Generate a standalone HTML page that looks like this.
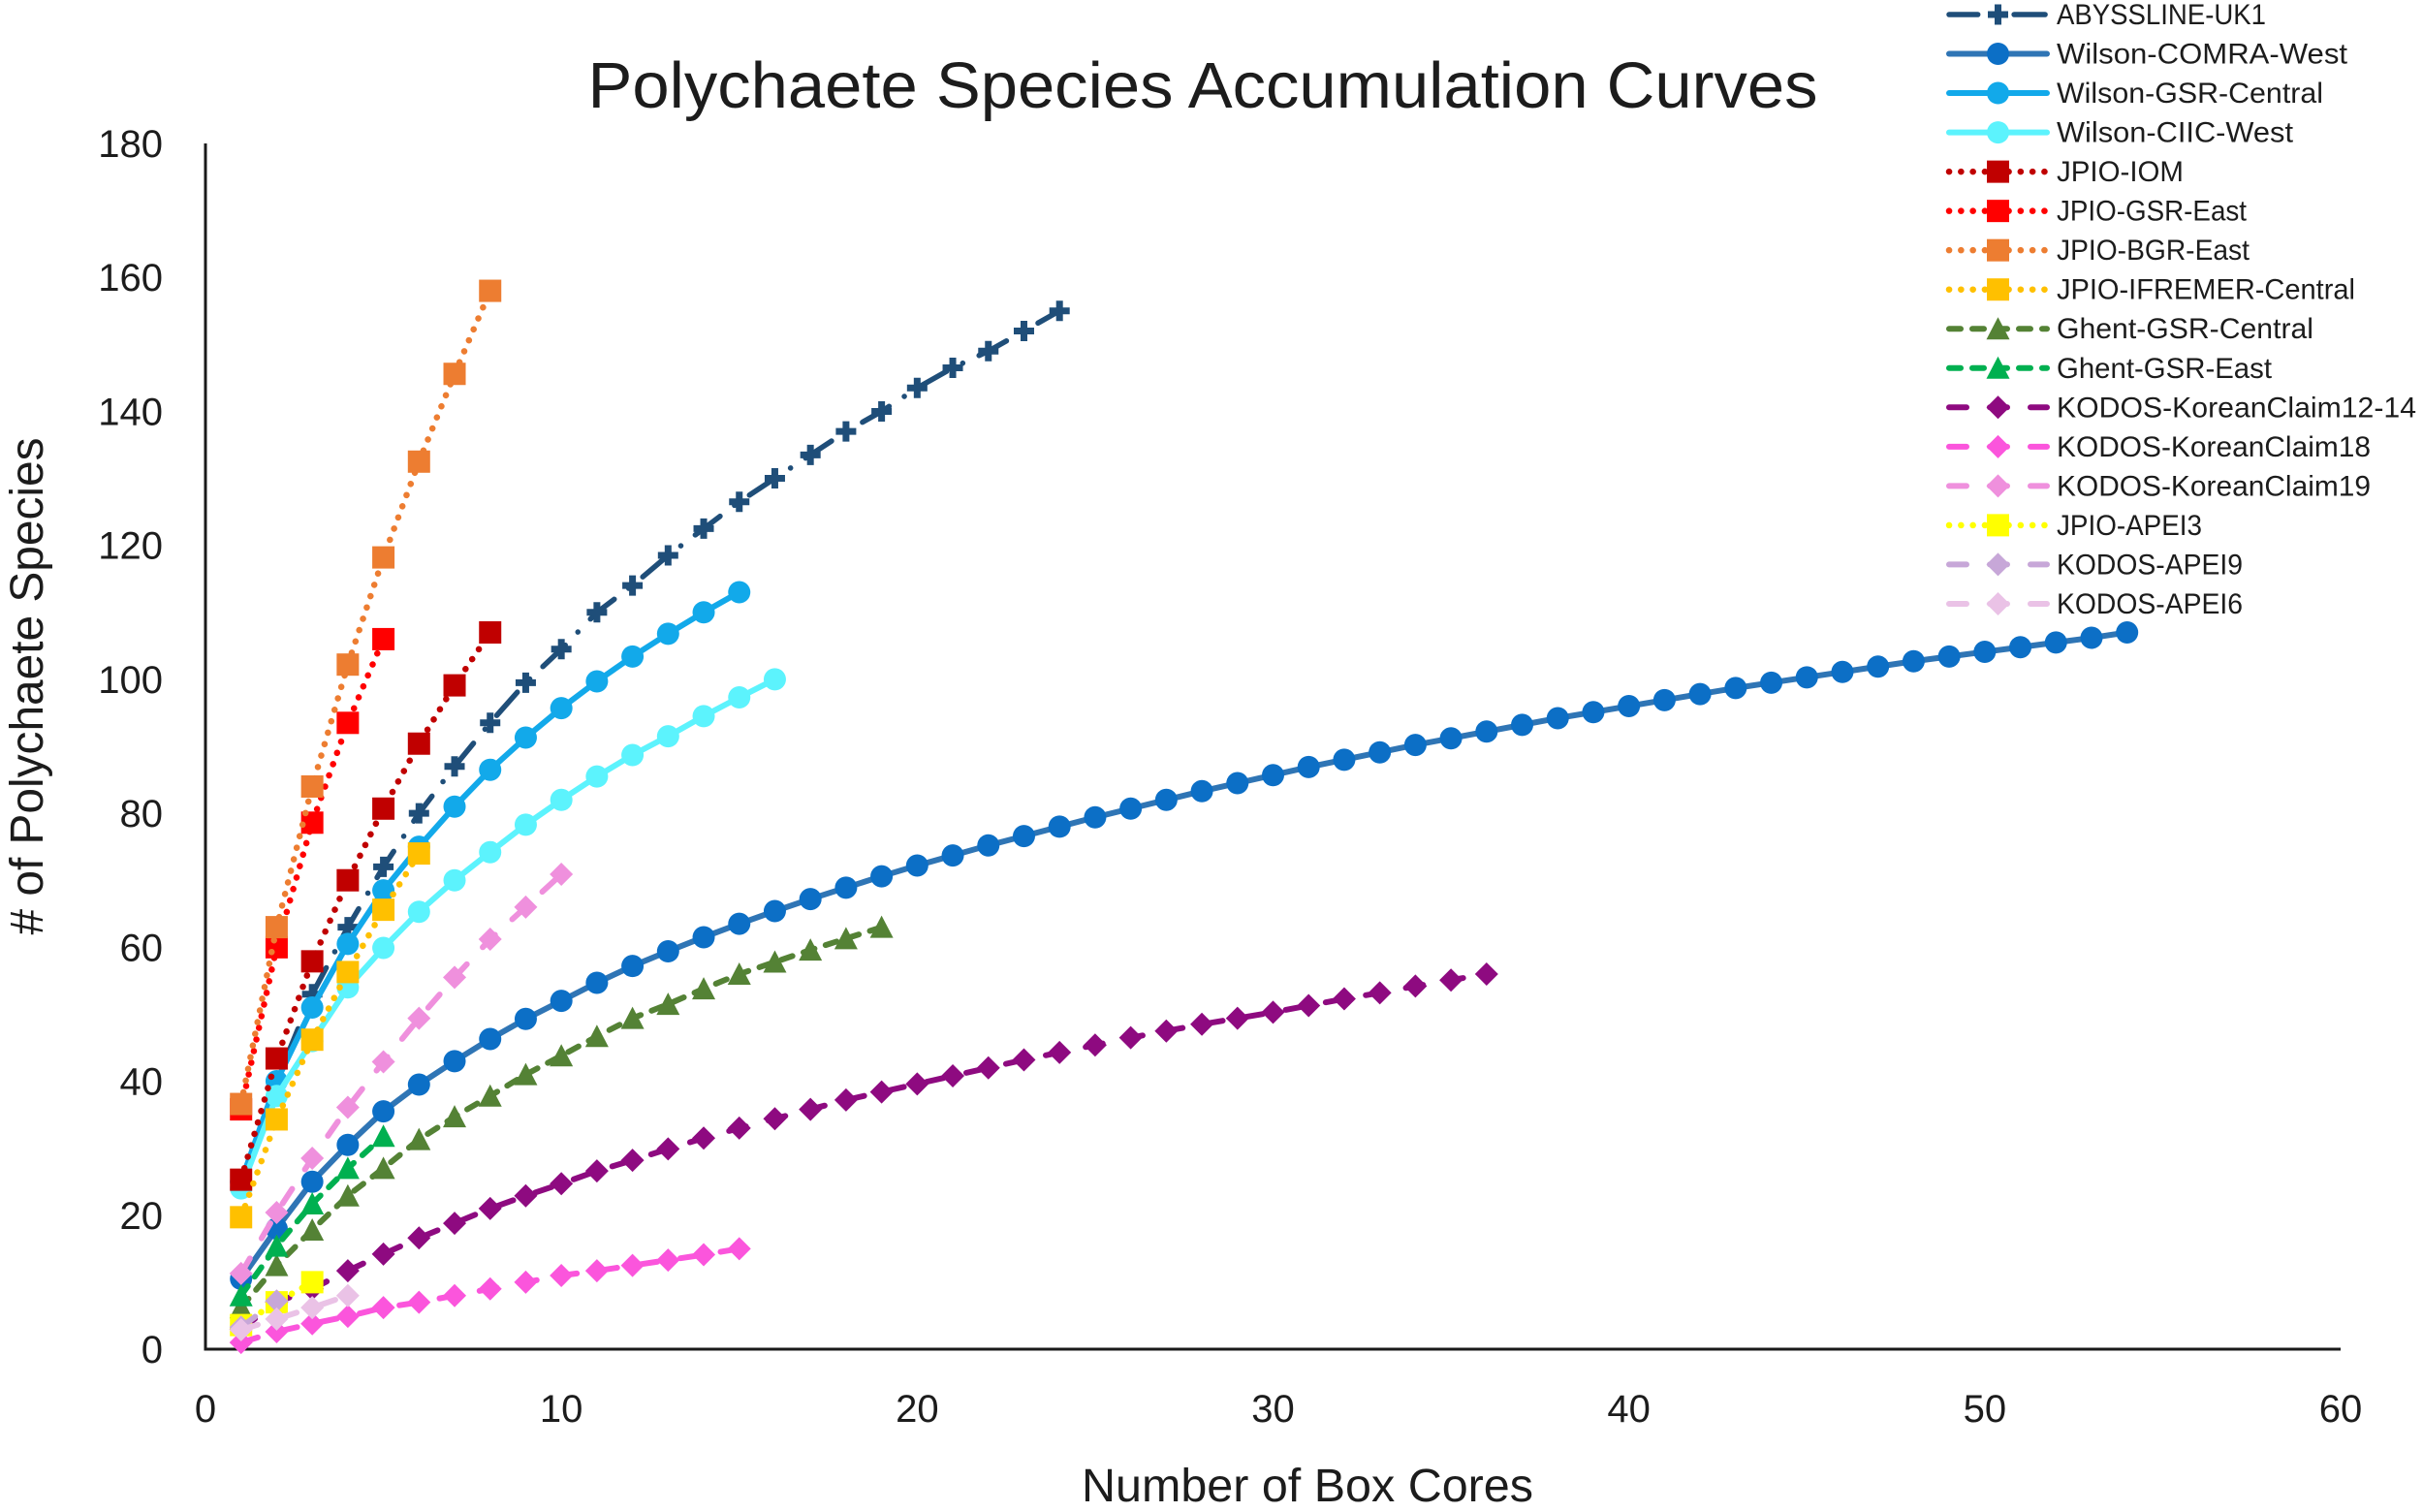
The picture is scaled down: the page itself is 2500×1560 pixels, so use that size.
<!DOCTYPE html>
<html lang="en">
<head>
<meta charset="utf-8">
<title>Polychaete Species Accumulation Curves</title>
<style>
html,body{margin:0;padding:0;background:#fff}
svg{display:block}
text{font-family:"Liberation Sans",sans-serif;fill:#1c1c1c}
</style>
</head>
<body>
<svg id="chart" width="2500" height="1560" viewBox="0 0 2500 1560" xmlns="http://www.w3.org/2000/svg">
  <text x="1241" y="111" font-size="67" text-anchor="middle" textLength="1269" lengthAdjust="spacingAndGlyphs">Polychaete Species Accumulation Curves</text>
  <text x="1349" y="1549" font-size="48" text-anchor="middle" textLength="466" lengthAdjust="spacingAndGlyphs">Number of Box Cores</text>
  <text transform="translate(44 708) rotate(-90)" font-size="48" text-anchor="middle" textLength="513" lengthAdjust="spacingAndGlyphs"># of Polychaete Species</text>
  <g id="axes"></g>
  <g id="series"></g>
  <g id="legend"></g>
</svg>
<script>
const xTicks = [0, 10, 20, 30, 40, 50, 60];
const yTicks = [0, 20, 40, 60, 80, 100, 120, 140, 160, 180];

const seriesNames = ["ABYSSLINE-UK1", "Wilson-COMRA-West", "Wilson-GSR-Central", "Wilson-CIIC-West", "JPIO-IOM", "JPIO-GSR-East", "JPIO-BGR-East", "JPIO-IFREMER-Central", "Ghent-GSR-Central", "Ghent-GSR-East", "KODOS-KoreanClaim12-14", "KODOS-KoreanClaim18", "KODOS-KoreanClaim19", "JPIO-APEI3", "KODOS-APEI9", "KODOS-APEI6"];

const abysslineUk1 = [25, 40, 53, 63, 72, 80, 87, 93.5, 99.5, 104.5, 110, 114, 118.5, 122.5, 126.5, 130, 133.5, 137, 140, 143.5, 146.5, 149, 152, 155];
const wilsonComraWest = [10.5, 18, 25, 30.5, 35.5, 39.5, 43, 46.3, 49.3, 52, 54.7, 57.2, 59.4, 61.5, 63.5, 65.4, 67.2, 68.9, 70.6, 72.2, 73.7, 75.2, 76.6, 78, 79.4, 80.7, 82, 83.3, 84.5, 85.7, 86.9, 88, 89.1, 90.2, 91.2, 92.2, 93.2, 94.2, 95.1, 96, 96.9, 97.8, 98.7, 99.5, 100.3, 101.1, 101.9, 102.7, 103.4, 104.1, 104.8, 105.5, 106.2, 107];
const wilsonGsrCentral = [25, 40, 51, 60.5, 68.5, 75, 81, 86.5, 91.3, 95.7, 99.7, 103.4, 106.8, 110, 113];
const wilsonCiicWest = [24, 37.8, 46, 54, 59.9, 65.3, 70, 74.2, 78.3, 82, 85.5, 88.7, 91.5, 94.5, 97.3, 100];
const jpioIom = [25.3, 43.4, 57.9, 70, 80.7, 90.4, 99.1, 107];
const jpioGsrEast = [35.8, 60, 78.6, 93.5, 106];
const jpioBgrEast = [36.6, 63, 84, 102.2, 118.2, 132.5, 145.6, 158];
const jpioIfremerCentral = [19.7, 34.3, 46.2, 56.3, 65.6, 74];
const ghentGsrCentral = [6.2, 12.5, 17.8, 22.9, 27, 31.3, 34.7, 37.8, 41, 43.8, 46.7, 49.4, 51.5, 53.8, 56, 57.8, 59.6, 61.3, 63];
const ghentGsrEast = [8, 15.4, 21.7, 27, 31.8];
const kodosClaim1214 = [3, 7, 9, 11.7, 14.2, 16.6, 18.8, 21, 22.9, 24.7, 26.6, 28.2, 29.9, 31.5, 33, 34.4, 35.8, 37.2, 38.4, 39.6, 40.8, 42, 43.2, 44.3, 45.4, 46.5, 47.5, 48.5, 49.4, 50.3, 51.3, 52.3, 53.2, 54.2, 55.1, 56];
const kodosClaim18 = [1, 2.6, 3.8, 4.9, 6.2, 7, 8, 9, 10, 11, 11.7, 12.5, 13.3, 14.1, 15];
const kodosClaim19 = [11.3, 20.4, 28.5, 36.1, 42.9, 49.4, 55.5, 61.2, 66, 70.9];
const jpioApei3 = [3.6, 7, 10];
const kodosApei9 = [3.3, 7.2];
const kodosApei6 = [2.9, 4.5, 6.2, 8];

const seriesValues = [abysslineUk1, wilsonComraWest, wilsonGsrCentral, wilsonCiicWest, jpioIom, jpioGsrEast, jpioBgrEast, jpioIfremerCentral, ghentGsrCentral, ghentGsrEast, kodosClaim1214, kodosClaim18, kodosClaim19, jpioApei3, kodosApei9, kodosApei6];

const lineColors = ["#1f4e79", "#2f75b5", "#12a9ea", "#5cf3fd", "#c00000", "#ff0000", "#ed7d31", "#ffc000", "#548235", "#00b050", "#8e0a80", "#fb55dc", "#ef90dd", "#ffff00", "#c7a7d8", "#eac2e6"];
const markerColors = ["#1f4e79", "#0c6fc6", "#12a9ea", "#5cf3fd", "#c00000", "#ff0000", "#ed7d31", "#ffc000", "#548235", "#00b050", "#8e0a80", "#fb55dc", "#ef90dd", "#ffff00", "#c7a7d8", "#eac2e6"];
const markerShapes = ["plus", "circle", "circle", "circle", "square", "square", "square", "square", "triangle", "triangle", "diamond", "diamond", "diamond", "square", "diamond", "diamond"];
const dashKinds = ["longDashDot", "solid", "solid", "solid", "dot", "dot", "dot", "dot", "dash", "dash", "longDash", "longDash", "longDash", "dot", "longDash", "longDash"];
const legendLabelWidths = [216, 300, 275, 244, 131, 196, 199, 308, 265, 222, 371, 324, 324, 150, 192, 192];

const SVGNS = "http://www.w3.org/2000/svg";
const plotLeft = 212, plotRight = 2415, plotTop = 148, plotBottom = 1392;
const xMax = 60, yMax = 180;
function xScale(v) { return plotLeft + v * (plotRight - plotLeft) / xMax; }
function yScale(v) { return plotBottom - v * (plotBottom - plotTop) / yMax; }
function slug(s) { return s.toLowerCase().replace(/[^a-z0-9]+/g, "-"); }

function applyStroke(el, kind, color) {
  el.setAttribute("fill", "none");
  el.setAttribute("stroke", color);
  el.setAttribute("stroke-linejoin", "round");
  el.setAttribute("stroke-linecap", "round");
  if (kind === "solid") { el.setAttribute("stroke-width", "6"); }
  if (kind === "dot") { el.setAttribute("stroke-width", "6.5"); el.setAttribute("stroke-dasharray", "0.1 12.2"); }
  if (kind === "dash") { el.setAttribute("stroke-width", "6"); el.setAttribute("stroke-dasharray", "12 12"); }
  if (kind === "longDash") { el.setAttribute("stroke-width", "6"); el.setAttribute("stroke-dasharray", "18 24"); }
  if (kind === "longDashDot") { el.setAttribute("stroke-width", "5.5"); el.setAttribute("stroke-dasharray", "32 18.7 0.1 18.6"); el.setAttribute("stroke-dashoffset", "2.3"); }
}

function drawMarker(parent, shape, cx, cy, color, name) {
  let el;
  if (shape === "circle") {
    el = document.createElementNS(SVGNS, "circle");
    el.setAttribute("cx", cx);
    el.setAttribute("cy", cy);
    el.setAttribute("r", 11.5);
  } else if (shape === "square") {
    el = document.createElementNS(SVGNS, "rect");
    el.setAttribute("x", cx - 11.5);
    el.setAttribute("y", cy - 11.5);
    el.setAttribute("width", 23);
    el.setAttribute("height", 23);
  } else if (shape === "triangle") {
    el = document.createElementNS(SVGNS, "polygon");
    el.setAttribute("points", (cx - 12) + "," + (cy + 11) + " " + cx + "," + (cy - 12) + " " + (cx + 12) + "," + (cy + 11));
  } else if (shape === "diamond") {
    el = document.createElementNS(SVGNS, "polygon");
    el.setAttribute("points", cx + "," + (cy - 12) + " " + (cx + 12) + "," + cy + " " + cx + "," + (cy + 12) + " " + (cx - 12) + "," + cy);
  } else {
    el = document.createElementNS(SVGNS, "path");
    el.setAttribute("d", "M" + (cx - 3.5) + " " + (cy - 10.5) + "h7v7h7v7h-7v7h-7v-7h-7v-7h7z");
  }
  el.setAttribute("fill", color);
  
  
  parent.appendChild(el);
}

function drawAxes() {
  const g = document.getElementById("axes");
  const axis = document.createElementNS(SVGNS, "path");
  axis.setAttribute("d", "M" + plotLeft + " " + plotTop + "V" + plotBottom + "H" + plotRight);
  axis.setAttribute("fill", "none");
  axis.setAttribute("stroke", "#1a1a1a");
  axis.setAttribute("stroke-width", "3");
  
  
  g.appendChild(axis);
  xTicks.forEach(function (t) {
    const el = document.createElementNS(SVGNS, "text");
    el.setAttribute("x", xScale(t));
    el.setAttribute("y", 1467);
    el.setAttribute("font-size", "40");
    el.setAttribute("text-anchor", "middle");
    
    
    el.textContent = t;
    g.appendChild(el);
  });
  yTicks.forEach(function (t) {
    const el = document.createElementNS(SVGNS, "text");
    el.setAttribute("x", 168);
    el.setAttribute("y", yScale(t) + 14);
    el.setAttribute("font-size", "40");
    el.setAttribute("text-anchor", "end");
    
    
    el.textContent = t;
    g.appendChild(el);
  });
}

function drawSeries() {
  const layer = document.getElementById("series");
  seriesValues.forEach(function (vals, s) {
    const g = document.createElementNS(SVGNS, "g");
    
    
    const line = document.createElementNS(SVGNS, "polyline");
    line.setAttribute("points", vals.map(function (v, i) { return xScale(i + 1) + "," + yScale(v); }).join(" "));
    applyStroke(line, dashKinds[s], lineColors[s]);
    
    
    g.appendChild(line);
    vals.forEach(function (v, i) {
      drawMarker(g, markerShapes[s], xScale(i + 1), yScale(v), markerColors[s], "point-" + slug(seriesNames[s]));
    });
    layer.appendChild(g);
  });
}

function drawLegend() {
  const layer = document.getElementById("legend");
  seriesNames.forEach(function (name, s) {
    const rowY = 15 + s * 40.53;
    const g = document.createElementNS(SVGNS, "g");
    
    
    const line = document.createElementNS(SVGNS, "line");
    line.setAttribute("x1", 2011);
    line.setAttribute("x2", 2112);
    line.setAttribute("y1", rowY);
    line.setAttribute("y2", rowY);
    applyStroke(line, dashKinds[s], lineColors[s]);
    
    
    g.appendChild(line);
    drawMarker(g, markerShapes[s], 2061.5, rowY, markerColors[s], "legend-marker");
    const label = document.createElementNS(SVGNS, "text");
    label.setAttribute("x", 2122);
    label.setAttribute("y", rowY + 10);
    label.setAttribute("font-size", "30");
    label.setAttribute("textLength", legendLabelWidths[s]);
    label.setAttribute("lengthAdjust", "spacingAndGlyphs");
    
    
    label.textContent = name;
    g.appendChild(label);
    layer.appendChild(g);
  });
}

drawAxes();
drawSeries();
drawLegend();
</script>
</body>
</html>
